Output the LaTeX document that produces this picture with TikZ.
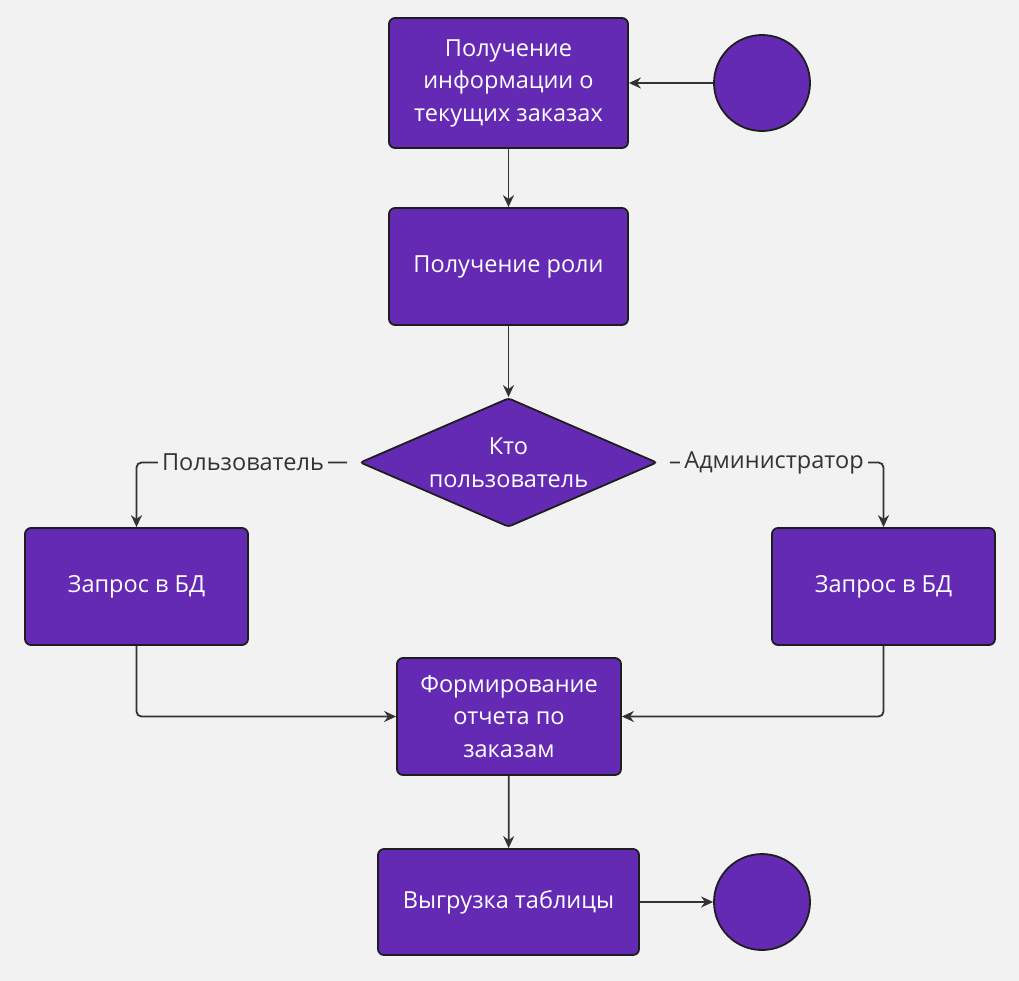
\documentclass[tikz,border=0pt]{standalone}
\usepackage{fontspec}
\setmainfont{Open Sans}
\usetikzlibrary{shapes.geometric,arrows.meta}
\definecolor{bgc}{HTML}{F2F2F2}
\definecolor{nodefill}{HTML}{652AB3}
\definecolor{edgec}{HTML}{333333}
\definecolor{borderc}{HTML}{1E1E1E}
\tikzset{
  x=1pt,y=-1pt,
  box/.style={draw=borderc,line width=1.8pt,fill=nodefill,rounded corners=6pt,text=white,font=\fontsize{23.5}{32.5}\selectfont,align=center,inner sep=0pt},
  circ/.style={draw=borderc,line width=1.8pt,fill=nodefill,circle,minimum size=96pt,inner sep=0pt},
  decis/.style={draw=borderc,line width=1.8pt,fill=nodefill,diamond,aspect=2.3,minimum width=297pt,minimum height=129pt,inner sep=0pt,text=white,font=\fontsize{23.5}{32.5}\selectfont,align=center,rounded corners=3pt},
  conn/.style={draw=edgec,line width=1.8pt,-{Stealth[length=12pt,width=11pt]},rounded corners=5pt},
  lab/.style={fill=bgc,text=edgec,font=\fontsize{23.5}{28}\selectfont,inner sep=4pt}
}
\begin{document}
\begin{tikzpicture}
\useasboundingbox (0,0) rectangle (1019,980);
\fill[bgc] (-10,-10) rectangle (1030,990);
\node[box,minimum width=239pt,minimum height=130pt] (a) at (508.5,83) {Получение\\информации о\\текущих заказах};
\node[circ] (s) at (762,83) {};
\node[box,minimum width=239pt,minimum height=117pt] (b) at (508.5,266.5) {Получение роли};
\node[decis] (d) at (508.5,462.5) {Кто\\пользователь};
\node[box,minimum width=223pt,minimum height=117pt] (c) at (136.5,586.5) {Запрос в БД};
\node[box,minimum width=223pt,minimum height=117pt] (r) at (883.5,586.5) {Запрос в БД};
\node[box,minimum width=224pt,minimum height=117pt] (e) at (509,716.5) {Формирование\\отчета по\\заказам};
\node[box,minimum width=261pt,minimum height=106pt] (f) at (508.5,902) {Выгрузка таблицы};
\node[circ] (t) at (762,902) {};
\coordinate (lc) at (136.5,462.5);
\coordinate (rc) at (883.5,462.5);
\coordinate (cl) at (136.5,716.5);
\coordinate (rl) at (883.5,716.5);
\draw[conn] (s) -- (a);
\draw[conn] (a) -- (b);
\draw[conn] (b) -- (d);
\draw[conn,shorten <=12pt] (d.west) -- (lc) -- (c.north);
\draw[conn,shorten <=12pt] (d.east) -- (rc) -- (r.north);
\node[lab] (l1) at (243,462.5) {Пользователь};
\node[lab] (l2) at (774,462.5) {Администратор};
\draw[conn] (c.south) -- (cl) -- (e.west);
\draw[conn] (r.south) -- (rl) -- (e.east);
\draw[conn] (e) -- (f);
\draw[conn] (f) -- (t);
\end{tikzpicture}
\end{document}
